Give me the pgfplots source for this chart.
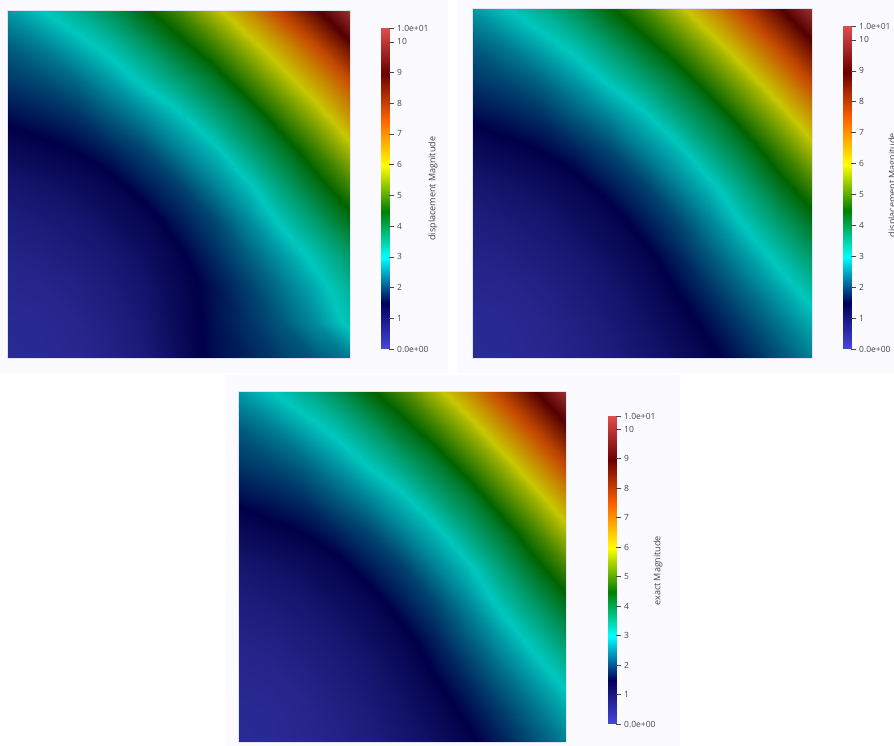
\documentclass[border=0pt]{standalone}
\usepackage{fontspec}
\setmainfont{Open Sans}
\usepackage{pgfplots}
\usepackage{pgfplotstable}
\pgfplotsset{compat=1.18}

\definecolor{panelbg}{RGB}{251,251,255}
\definecolor{edgecol}{RGB}{226,226,242}
\definecolor{txtcol}{RGB}{70,70,70}

% bar colours, and the same map dimmed by the lighting on the surface
\pgfplotsset{
  colormap={barmap}{rgb255=(71,71,219) rgb255=(0,0,92) rgb255=(0,255,255) rgb255=(0,128,0) rgb255=(255,255,0) rgb255=(255,97,0) rgb255=(107,0,0) rgb255=(224,77,77)},
  colormap={fieldmap}{rgb255=(55,55,171) rgb255=(0,0,72) rgb255=(0,199,190) rgb255=(0,100,0) rgb255=(199,199,0) rgb255=(199,76,0) rgb255=(83,0,0) rgb255=(175,60,60)},
  fieldaxis/.style={
    scale only axis, view={0}{90}, xmin=0, xmax=1, ymin=0, ymax=1,
    xtick=\empty, ytick=\empty, axis line style={draw=edgecol, line width=0.5pt},
    colormap name=fieldmap, point meta min=0, point meta max=10.45},
  baraxis/.style={
    scale only axis, view={0}{90}, width=8pt, xmin=0, xmax=1, ymin=0, ymax=10.45,
    colormap name=barmap, point meta min=0, point meta max=10.45,
    axis line style={draw=none}, xtick=\empty, clip=false,
    ytick={0,1,2,3,4,5,6,7,8,9,10,10.45},
    yticklabels={0.0e+00,1,2,3,4,5,6,7,8,9,10,1.0e+01},
    ytick pos=right, yticklabel pos=right, tick align=outside,
    major tick length=5pt, tick style={draw=txtcol, line width=0.5pt},
    yticklabel style={font=\fontsize{8.5}{10}\selectfont, text=txtcol, inner sep=0pt, xshift=3pt}},
}

\pgfplotstableread[row sep=\\]{
x y v\\
0 0 0.35\\ 0.1 0 0.374\\ 0.2 0 0.443\\ 0.3 0 0.553\\ 0.4 0 0.705\\ 0.5 0 0.897\\ 0.6 0 1.13\\ 0.7 0 1.40\\ 0.8 0 1.71\\ 0.9 0 2.06\\ 1 0 2.45\\
0 0.1 0.374\\ 0.1 0.1 0.40\\ 0.2 0.1 0.483\\ 0.3 0.1 0.61\\ 0.4 0.1 0.796\\ 0.5 0.1 1.029\\ 0.6 0.1 1.30\\ 0.7 0.1 1.61\\ 0.8 0.1 1.962\\ 0.9 0.1 2.353\\ 1 0.1 2.785\\
0 0.2 0.443\\ 0.1 0.2 0.483\\ 0.2 0.2 0.579\\ 0.3 0.2 0.746\\ 0.4 0.2 0.908\\ 0.5 0.2 1.183\\ 0.6 0.2 1.513\\ 0.7 0.2 1.875\\ 0.8 0.2 2.281\\ 0.9 0.2 2.73\\ 1 0.2 3.218\\
0 0.3 0.553\\ 0.1 0.3 0.61\\ 0.2 0.3 0.746\\ 0.3 0.3 0.868\\ 0.4 0.3 1.125\\ 0.5 0.3 1.367\\ 0.6 0.3 1.748\\ 0.7 0.3 2.185\\ 0.8 0.3 2.654\\ 0.9 0.3 3.169\\ 1 0.3 3.726\\
0 0.4 0.705\\ 0.1 0.4 0.796\\ 0.2 0.4 0.908\\ 0.3 0.4 1.125\\ 0.4 0.4 1.318\\ 0.5 0.4 1.685\\ 0.6 0.4 2.024\\ 0.7 0.4 2.527\\ 0.8 0.4 3.09\\ 0.9 0.4 3.679\\ 1 0.4 4.316\\
0 0.5 0.897\\ 0.1 0.5 1.029\\ 0.2 0.5 1.183\\ 0.3 0.5 1.367\\ 0.4 0.5 1.685\\ 0.5 0.5 1.97\\ 0.6 0.5 2.463\\ 0.7 0.5 2.927\\ 0.8 0.5 3.568\\ 0.9 0.5 4.271\\ 1 0.5 4.994\\
0 0.6 1.25\\ 0.1 0.6 1.38\\ 0.2 0.6 1.513\\ 0.3 0.6 1.748\\ 0.4 0.6 2.024\\ 0.5 0.6 2.463\\ 0.6 0.6 2.873\\ 0.7 0.6 3.512\\ 0.8 0.6 4.128\\ 0.9 0.6 4.921\\ 1 0.6 5.778\\
0 0.7 1.6\\ 0.1 0.7 1.72\\ 0.2 0.7 1.875\\ 0.3 0.7 2.185\\ 0.4 0.7 2.527\\ 0.5 0.7 2.927\\ 0.6 0.7 3.512\\ 0.7 0.7 4.081\\ 0.8 0.7 4.885\\ 0.9 0.7 5.686\\ 1 0.7 6.671\\
0 0.8 1.92\\ 0.1 0.8 2.05\\ 0.2 0.8 2.281\\ 0.3 0.8 2.654\\ 0.4 0.8 3.09\\ 0.5 0.8 3.568\\ 0.6 0.8 4.128\\ 0.7 0.8 4.885\\ 0.8 0.8 5.655\\ 0.9 0.8 6.642\\ 1 0.8 7.694\\
0 0.9 2.2\\ 0.1 0.9 2.45\\ 0.2 0.9 2.8\\ 0.3 0.9 3.169\\ 0.4 0.9 3.679\\ 0.5 0.9 4.271\\ 0.6 0.9 4.921\\ 0.7 0.9 5.686\\ 0.8 0.9 6.642\\ 0.9 0.9 7.66\\ 1 0.9 8.868\\
0 1 2.65\\ 0.1 1 2.98\\ 0.2 1 3.35\\ 0.3 1 3.8\\ 0.4 1 4.4\\ 0.5 1 4.994\\ 0.6 1 5.778\\ 0.7 1 6.671\\ 0.8 1 7.694\\ 0.9 1 8.868\\ 1 1 10.2\\
}\exactfield

% the computed field: same above the kink, a flatter patch at lower right
\pgfplotstableread[row sep=\\]{
x y v\\
0 0 0.35\\ 0.1 0 0.374\\ 0.2 0 0.443\\ 0.3 0 0.56\\ 0.4 0 0.78\\ 0.5 0 1.17\\ 0.6 0 1.58\\ 0.7 0 1.75\\ 0.8 0 1.95\\ 0.9 0 2.15\\ 1 0 2.4\\
0 0.1 0.374\\ 0.1 0.1 0.40\\ 0.2 0.1 0.483\\ 0.3 0.1 0.63\\ 0.4 0.1 0.85\\ 0.5 0.1 1.25\\ 0.6 0.1 1.6\\ 0.7 0.1 1.85\\ 0.8 0.1 2.15\\ 0.9 0.1 2.55\\ 1 0.1 3.1\\
0 0.2 0.443\\ 0.1 0.2 0.483\\ 0.2 0.2 0.579\\ 0.3 0.2 0.746\\ 0.4 0.2 0.96\\ 0.5 0.2 1.3\\ 0.6 0.2 1.62\\ 0.7 0.2 1.95\\ 0.8 0.2 2.35\\ 0.9 0.2 2.8\\ 1 0.2 3.3\\
0 0.3 0.553\\ 0.1 0.3 0.61\\ 0.2 0.3 0.746\\ 0.3 0.3 0.868\\ 0.4 0.3 1.125\\ 0.5 0.3 1.42\\ 0.6 0.3 1.8\\ 0.7 0.3 2.2\\ 0.8 0.3 2.65\\ 0.9 0.3 3.15\\ 1 0.3 3.7\\
0 0.4 0.705\\ 0.1 0.4 0.796\\ 0.2 0.4 0.908\\ 0.3 0.4 1.125\\ 0.4 0.4 1.318\\ 0.5 0.4 1.685\\ 0.6 0.4 2.024\\ 0.7 0.4 2.527\\ 0.8 0.4 3.09\\ 0.9 0.4 3.679\\ 1 0.4 4.316\\
0 0.5 0.897\\ 0.1 0.5 1.029\\ 0.2 0.5 1.183\\ 0.3 0.5 1.367\\ 0.4 0.5 1.685\\ 0.5 0.5 1.97\\ 0.6 0.5 2.463\\ 0.7 0.5 2.927\\ 0.8 0.5 3.568\\ 0.9 0.5 4.271\\ 1 0.5 4.994\\
0 0.6 1.25\\ 0.1 0.6 1.38\\ 0.2 0.6 1.513\\ 0.3 0.6 1.748\\ 0.4 0.6 2.024\\ 0.5 0.6 2.463\\ 0.6 0.6 2.873\\ 0.7 0.6 3.512\\ 0.8 0.6 4.128\\ 0.9 0.6 4.921\\ 1 0.6 5.778\\
0 0.7 1.6\\ 0.1 0.7 1.72\\ 0.2 0.7 1.875\\ 0.3 0.7 2.185\\ 0.4 0.7 2.527\\ 0.5 0.7 2.927\\ 0.6 0.7 3.512\\ 0.7 0.7 4.081\\ 0.8 0.7 4.885\\ 0.9 0.7 5.686\\ 1 0.7 6.671\\
0 0.8 1.92\\ 0.1 0.8 2.05\\ 0.2 0.8 2.281\\ 0.3 0.8 2.654\\ 0.4 0.8 3.09\\ 0.5 0.8 3.568\\ 0.6 0.8 4.128\\ 0.7 0.8 4.885\\ 0.8 0.8 5.655\\ 0.9 0.8 6.54\\ 1 0.8 7.5\\
0 0.9 2.2\\ 0.1 0.9 2.45\\ 0.2 0.9 2.8\\ 0.3 0.9 3.169\\ 0.4 0.9 3.679\\ 0.5 0.9 4.271\\ 0.6 0.9 4.921\\ 0.7 0.9 5.686\\ 0.8 0.9 6.54\\ 0.9 0.9 7.55\\ 1 0.9 8.8\\
0 1 2.65\\ 0.1 1 2.98\\ 0.2 1 3.35\\ 0.3 1 3.8\\ 0.4 1 4.4\\ 0.5 1 4.994\\ 0.6 1 5.778\\ 0.7 1 6.671\\ 0.8 1 7.694\\ 0.9 1 8.868\\ 1 1 10.2\\
}\computedfield

\begin{document}
\begin{tikzpicture}[x=1pt,y=1pt]
\useasboundingbox (0,0) rectangle (894,746);
\clip (0,0) rectangle (894,746);
\fill[white] (0,0) rectangle (894,746);
\fill[panelbg] (0,373) rectangle (448,746);
\fill[panelbg] (457,373) rectangle (894,746);
\fill[panelbg] (226,0) rectangle (680,371);

% top left
\begin{axis}[fieldaxis, at={(7pt,388pt)}, anchor=south west, width=343pt, height=348pt]
\addplot3[surf, shader=interp, mesh/rows=11, mesh/cols=11] table[x=x, y=y, z=v] {\computedfield};
\end{axis}
\begin{axis}[baraxis, at={(381pt,397pt)}, anchor=south west, height=321pt]
\addplot3[surf, shader=interp, mesh/rows=2, mesh/cols=2] coordinates {(0,0,0) (1,0,0) (0,10.45,10.45) (1,10.45,10.45)};
\node[rotate=90, font=\fontsize{9}{10}\selectfont, text=txtcol] at (axis cs:6.5,5.22) {displacement Magnitude};
\end{axis}

% top right
\begin{axis}[fieldaxis, at={(472pt,388pt)}, anchor=south west, width=340pt, height=350pt]
\addplot3[surf, shader=interp, mesh/rows=11, mesh/cols=11] table[x=x, y=y, z=v] {\exactfield};
\end{axis}
\begin{axis}[baraxis, at={(843pt,397pt)}, anchor=south west, height=323pt]
\addplot3[surf, shader=interp, mesh/rows=2, mesh/cols=2] coordinates {(0,0,0) (1,0,0) (0,10.45,10.45) (1,10.45,10.45)};
\node[rotate=90, font=\fontsize{9}{10}\selectfont, text=txtcol] at (axis cs:6.25,5.3) {displacement Magnitude};
\end{axis}

% bottom
\begin{axis}[fieldaxis, at={(238pt,4pt)}, anchor=south west, width=328pt, height=351pt]
\addplot3[surf, shader=interp, mesh/rows=11, mesh/cols=11] table[x=x, y=y, z=v] {\exactfield};
\end{axis}
\begin{axis}[baraxis, at={(608pt,22pt)}, anchor=south west, height=308pt]
\addplot3[surf, shader=interp, mesh/rows=2, mesh/cols=2] coordinates {(0,0,0) (1,0,0) (0,10.45,10.45) (1,10.45,10.45)};
\node[rotate=90, font=\fontsize{9}{10}\selectfont, text=txtcol] at (axis cs:6.25,5.2) {exact Magnitude};
\end{axis}
\end{tikzpicture}
\end{document}
